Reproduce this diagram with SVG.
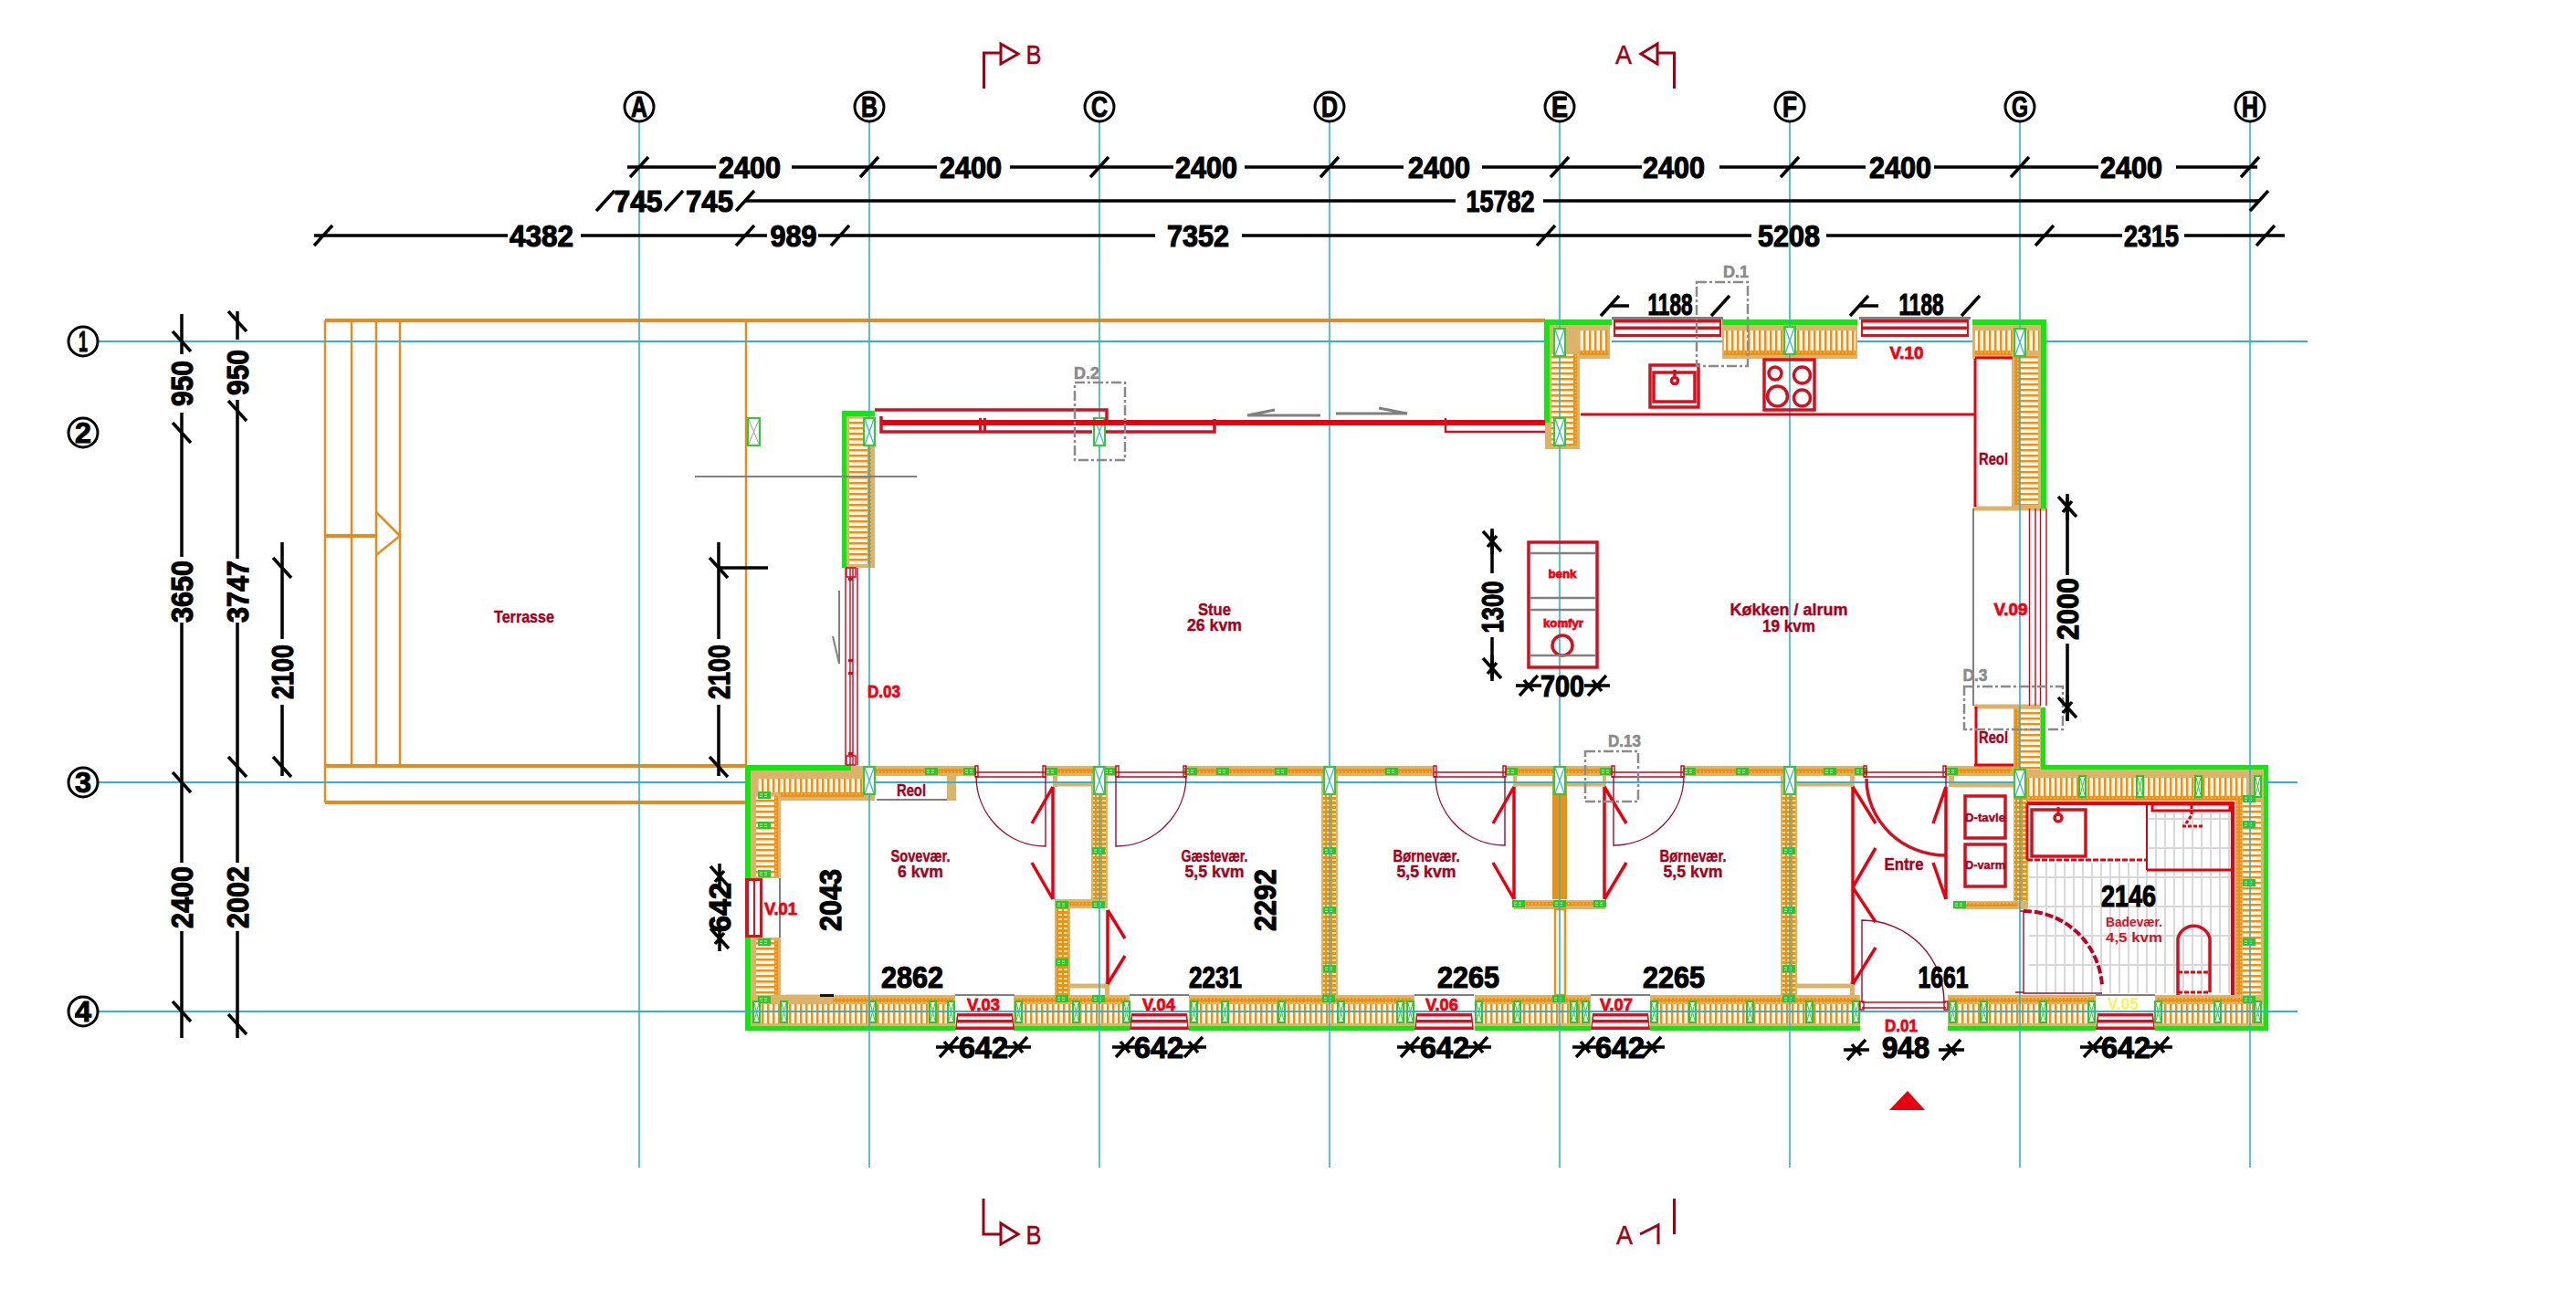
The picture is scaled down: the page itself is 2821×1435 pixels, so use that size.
<svg xmlns="http://www.w3.org/2000/svg" width="2821" height="1435" viewBox="0 0 2821 1435">
<style>
text{font-family:"Liberation Sans",Arial,sans-serif;text-anchor:middle}
.d{font-size:34px;font-weight:700;fill:#000;stroke:#000;stroke-width:1.2}
.gl{font-size:31px;font-weight:700;fill:#000;stroke:#000;stroke-width:1}
.r{font-size:19px;font-weight:700;fill:#A80018;stroke:#A80018;stroke-width:.4}
.v{font-size:19px;font-weight:700;fill:#F00010;stroke:#F00010;stroke-width:.8}
.g{font-size:19px;font-weight:700;fill:#8A8A8A;stroke:#8A8A8A;stroke-width:.6}
.s{font-size:30px;fill:#A00014;stroke:#A00014;stroke-width:.5}
.k{stroke:#000;stroke-width:3.5;fill:none}
.k2{stroke:#000;stroke-width:3.5;fill:none}
.teal{stroke:#2FB4CC;fill:none}
.o{stroke:#E68A1E;stroke-width:2.5;fill:none}
.o3{stroke:#E68A1E;stroke-width:4;fill:none}
.t{fill:#DDB36C}
.tl{stroke:#DDB36C;stroke-width:5;fill:none}
.G{fill:#14E614}
.re{stroke:#E8000F;stroke-width:3;fill:none}
.re2{stroke:#D4101F;stroke-width:3.5;fill:none}
.th{stroke:#D80018;stroke-width:1.4;fill:none}
.ar{stroke:#A00A30;stroke-width:1.4;fill:none}
.gr{stroke:#808080;stroke-width:2;fill:none}
.gd{stroke:#8A8A8A;stroke-width:2.5;fill:none;stroke-dasharray:11 3 3 3}
.sec{stroke:#A00014;stroke-width:3;fill:none}
</style>
<defs>
<pattern id="pv" width="6" height="6" patternUnits="userSpaceOnUse"><rect width="6" height="6" fill="#FFFBF0"/><rect width="2.5" height="6" fill="#F09010"/></pattern>
<pattern id="ph" width="6" height="6" patternUnits="userSpaceOnUse"><rect width="6" height="6" fill="#FFFBF0"/><rect width="6" height="2.5" fill="#F09010"/></pattern>
<pattern id="pz" width="4" height="4" patternUnits="userSpaceOnUse"><rect width="4" height="4" fill="#F09010"/><rect x="1" y="1" width="1.5" height="1.5" fill="#E8C070"/></pattern>
<pattern id="ps" width="6" height="5" patternUnits="userSpaceOnUse"><rect width="6" height="5" fill="#F09010"/><rect x="1" y="1" width="4" height="2" fill="#FFE8B0"/></pattern>
<pattern id="tile" width="10" height="32" patternUnits="userSpaceOnUse" x="2220" y="0"><rect width="10" height="32" fill="#fff"/><rect width="2" height="32" fill="#D8D8D8"/><rect width="10" height="2" fill="#D8D8D8"/></pattern>
<path id="ts" d="M-10 11L10-11" class="k"/>
<path id="tb" d="M-10-11L10 11" class="k"/>
<path id="ta" d="M-10 11L10-11M-14 0H14M-5-6L5 6" class="k"/>
<path id="tv" d="M-10-11L10 11M0-14V14M5-6L-5 6" class="k"/>
<g id="gb"><rect x="-7" y="-4" width="14" height="8" fill="#28C828"/><path d="M-5-1H5M-5 1.5H5" stroke="#C8F0C8" stroke-width="1" stroke-dasharray="3 2"/></g>
<g id="vm"><rect width="7" height="23" fill="#FFF" stroke="#28C828" stroke-width="2"/><path d="M1 2L6 21M6 2L1 21" stroke="#28C828" stroke-width="1"/></g>
<g id="xb"><rect x="-6" width="12" height="30" fill="#fff" stroke="#28D028" stroke-width="2"/><path d="M-5 1L5 29M5 1L-5 29" stroke="#2FB4CC" stroke-width="1.2"/></g>
<g id="wb"><path d="M0 1090H65" stroke="#808080" stroke-width="2"/><path d="M2 1110H63L65 1128H0Z" fill="#D8101F"/><rect x="3" y="1113.5" width="59" height="3.5" fill="#fff"/><rect x="2" y="1120.5" width="61" height="4" fill="#fff"/></g>
<g id="wt"><rect y="347" width="122" height="3" fill="#808080"/><rect x="2" y="350" width="118" height="19" fill="#D8101F"/><rect x="4" y="353.5" width="114" height="4" fill="#fff"/><rect x="4" y="361" width="114" height="5" fill="#fff"/></g>
</defs>
<rect width="2821" height="1435" fill="#fff"/>

<g id="terrace">
<path class="o3" d="M356 351H1692"/>
<path class="o" d="M356 351V879M385 351V839M412 351V839M438 351V839M817 351V839"/>
<path class="o3" d="M356 839H817M356 879H817M356 587H412"/>
<path class="o" d="M412 561L438 587L412 608"/>
<rect x="819" y="458" width="13" height="30" fill="#fff" stroke="#28D028" stroke-width="2"/><path d="M820 460L831 486M831 460L820 486" stroke="#999" stroke-width="1"/>
</g>

<g id="walls">
<rect class="t" x="926" y="455" width="32" height="167"/><rect x="930" y="458" width="20" height="160" fill="url(#ph)"/><rect x="950" y="458" width="4" height="160" fill="url(#pz)"/>
<rect class="G" x="922" y="450" width="36" height="6"/><rect class="G" x="922" y="450" width="5" height="172"/>
<rect class="t" x="1692" y="355" width="71" height="38"/><rect x="1700" y="362" width="60" height="22" fill="url(#pv)"/><rect x="1715" y="384" width="46" height="5" fill="url(#pz)"/>
<rect class="t" x="1692" y="355" width="38" height="137"/><rect x="1699" y="388" width="24" height="100" fill="url(#ph)"/><rect x="1723" y="388" width="4" height="100" fill="url(#pz)"/>
<rect class="t" x="1886" y="355" width="148" height="38"/><rect x="1888" y="362" width="144" height="22" fill="url(#pv)"/><rect x="1888" y="384" width="144" height="5" fill="url(#pz)"/>
<rect class="t" x="2160" y="355" width="80" height="38"/><rect x="2163" y="362" width="70" height="22" fill="url(#pv)"/><rect x="2163" y="384" width="45" height="5" fill="url(#pz)"/>
<rect class="t" x="2203" y="385" width="37" height="172"/><rect x="2212" y="390" width="20" height="163" fill="url(#ph)"/><rect x="2206" y="390" width="6" height="163" fill="url(#pz)"/>
<path class="tl" d="M2161 557H2240"/>
<rect class="G" x="1691" y="350" width="74" height="6"/><rect class="G" x="1691" y="350" width="6" height="113"/>
<rect class="G" x="1886" y="350" width="148" height="6"/><rect class="G" x="2160" y="350" width="80" height="6"/><rect class="G" x="2235" y="350" width="6" height="207"/>
<g class="t"><rect x="932" y="839" width="136" height="11"/><rect x="1145" y="839" width="77" height="11"/><rect x="1299" y="839" width="271" height="11"/><rect x="1649" y="839" width="116" height="11"/><rect x="1844" y="839" width="197" height="11"/><rect x="2131" y="839" width="74" height="11"/></g>
<g fill="url(#pz)"><rect x="958" y="842" width="110" height="5"/><rect x="1147" y="842" width="73" height="5"/><rect x="1301" y="842" width="267" height="5"/><rect x="1651" y="842" width="112" height="5"/><rect x="1846" y="842" width="193" height="5"/><rect x="2133" y="842" width="70" height="5"/></g>
<rect class="t" x="822" y="843" width="136" height="34"/><rect x="830" y="853" width="116" height="15" fill="url(#pv)"/><rect x="852" y="868" width="94" height="5" fill="url(#pz)"/>
<rect class="t" x="822" y="870" width="33" height="92"/><rect x="828" y="872" width="20" height="88" fill="url(#ph)"/><rect x="848" y="872" width="4" height="88" fill="url(#pz)"/>
<rect class="t" x="822" y="1027" width="33" height="66"/><rect x="828" y="1030" width="20" height="62" fill="url(#ph)"/><rect x="848" y="1030" width="4" height="62" fill="url(#pz)"/>
<rect class="G" x="816" y="838" width="116" height="6"/><rect class="G" x="816" y="838" width="6" height="124"/><rect class="G" x="816" y="1027" width="6" height="101"/>
<rect class="t" x="1037" y="850" width="10" height="27"/><path class="gr" d="M960 876H1037"/>
<g class="t"><rect x="822" y="1090" width="224" height="35"/><rect x="1110" y="1090" width="127" height="35"/><rect x="1302" y="1090" width="247" height="35"/><rect x="1615" y="1090" width="127" height="35"/><rect x="1807" y="1090" width="230" height="35"/><rect x="2133" y="1090" width="162" height="35"/><rect x="2360" y="1090" width="122" height="35"/></g>
<g fill="url(#pv)"><rect x="826" y="1100" width="218" height="21"/><rect x="1112" y="1100" width="123" height="21"/><rect x="1304" y="1100" width="243" height="21"/><rect x="1617" y="1100" width="123" height="21"/><rect x="1809" y="1100" width="226" height="21"/><rect x="2135" y="1100" width="158" height="21"/><rect x="2362" y="1100" width="116" height="21"/></g>
<g fill="url(#pz)"><rect x="912" y="1093" width="132" height="5"/><rect x="1112" y="1093" width="123" height="5"/><rect x="1304" y="1093" width="243" height="5"/><rect x="1617" y="1093" width="123" height="5"/><rect x="1809" y="1093" width="226" height="5"/><rect x="2135" y="1093" width="158" height="5"/><rect x="2362" y="1093" width="100" height="5"/></g>
<g class="G"><rect x="816" y="1124" width="230" height="5"/><rect x="1110" y="1124" width="127" height="5"/><rect x="1302" y="1124" width="247" height="5"/><rect x="1615" y="1124" width="127" height="5"/><rect x="1807" y="1124" width="230" height="5"/><rect x="2133" y="1124" width="162" height="5"/><rect x="2360" y="1124" width="124" height="5"/></g>
<rect class="t" x="2205" y="773" width="30" height="72"/><rect x="2212" y="776" width="22" height="68" fill="url(#ph)"/><rect x="2206" y="776" width="6" height="72" fill="url(#pz)"/>
<path class="tl" d="M2162 774H2235"/>
<rect class="t" x="2205" y="843" width="275" height="34"/><rect x="2220" y="852" width="240" height="20" fill="url(#pv)"/><rect x="2220" y="872" width="250" height="5" fill="url(#pz)"/>
<rect class="t" x="2448" y="877" width="32" height="215"/><rect x="2456" y="877" width="20" height="213" fill="url(#ph)"/><rect x="2449" y="877" width="6" height="213" fill="url(#pz)"/>
<rect class="t" x="2205" y="850" width="16" height="145"/><rect x="2206" y="852" width="14" height="142" fill="url(#ps)"/>
<rect class="t" x="2141" y="987" width="79" height="9"/><rect x="2145" y="989" width="64" height="4" fill="url(#pz)"/>
<rect class="G" x="2235" y="775" width="5" height="66"/><rect class="G" x="2235" y="838" width="249" height="5"/><rect class="G" x="2479" y="838" width="5" height="291"/>
<rect class="t" x="1195" y="850" width="18" height="145"/><rect x="1197" y="870" width="14" height="124" fill="url(#ps)"/>
<rect class="t" x="1155" y="985" width="58" height="10"/><rect x="1170" y="988" width="28" height="4" fill="url(#pz)"/>
<rect class="t" x="1155" y="995" width="17" height="95"/><rect x="1157" y="995" width="13" height="95" fill="url(#ps)"/>
<rect class="t" x="1447" y="850" width="18" height="240"/><rect x="1449" y="870" width="14" height="220" fill="url(#ps)"/>
<rect class="t" x="1950" y="850" width="18" height="240"/><rect x="1952" y="870" width="14" height="220" fill="url(#ps)"/>
<rect x="1700" y="850" width="16" height="135" fill="#F09010"/>
<rect class="t" x="1658" y="986" width="100" height="10"/><rect x="1668" y="988" width="80" height="4" fill="url(#pz)"/>
<rect x="1703" y="996" width="11" height="94" fill="#fff" stroke="#F09010" stroke-width="2.5"/>
<path class="tl" d="M1155 859H1195M1172 1080H1213M1660 859H1700M1716 859H1757M1967 859H2029M1967 1080H2029M2140 860H2205M860 1092H912"/>
<rect class="t" x="1153" y="850" width="5" height="12"/><rect class="t" x="1210" y="1075" width="5" height="15"/><rect class="t" x="1657" y="850" width="4" height="12"/><rect class="t" x="1755" y="850" width="4" height="12"/><rect class="t" x="2026" y="850" width="5" height="12"/><rect class="t" x="2026" y="1075" width="5" height="15"/><rect class="t" x="2134" y="850" width="6" height="12"/>
<rect x="898" y="1089" width="15" height="3" fill="#111"/>
<path class="gr" d="M854 962V1027M2161 557V773"/>
<use href="#gb" x="1020" y="845"/><use href="#gb" x="1062" y="845"/><use href="#gb" x="1151" y="845"/><use href="#gb" x="1215" y="845"/><use href="#gb" x="1304" y="845"/><use href="#gb" x="1339" y="845"/><use href="#gb" x="1403" y="845"/><use href="#gb" x="1524" y="845"/><use href="#gb" x="1655" y="845"/><use href="#gb" x="1759" y="845"/><use href="#gb" x="1850" y="845"/><use href="#gb" x="1908" y="845"/><use href="#gb" x="2004" y="845"/><use href="#gb" x="2038" y="845"/><use href="#gb" x="2137" y="845"/>
<use href="#gb" x="1203" y="932"/><use href="#gb" x="1203" y="991"/><use href="#gb" x="1163" y="991"/><use href="#gb" x="1163" y="1054"/>
<use href="#gb" x="1456" y="932"/><use href="#gb" x="1456" y="997"/><use href="#gb" x="1456" y="1061"/>
<use href="#gb" x="1959" y="932"/><use href="#gb" x="1959" y="997"/><use href="#gb" x="1959" y="1061"/>
<use href="#gb" x="1663" y="990"/><use href="#gb" x="1708" y="990"/><use href="#gb" x="1752" y="990"/><use href="#gb" x="2146" y="991"/>
<use href="#gb" x="1163" y="1094"/><use href="#gb" x="1203" y="1094"/><use href="#gb" x="1455" y="1094"/><use href="#gb" x="1707" y="1094"/><use href="#gb" x="1959" y="1094"/>
<use href="#gb" x="837" y="871"/><use href="#gb" x="837" y="904"/><use href="#gb" x="837" y="957"/><use href="#gb" x="837" y="1032"/><use href="#gb" x="837" y="1095"/>
<use href="#gb" x="2463" y="875"/><use href="#gb" x="2463" y="903"/><use href="#gb" x="2463" y="967"/><use href="#gb" x="2463" y="1032"/><use href="#gb" x="2463" y="1095"/>
<use href="#vm" x="825" y="1097"/><use href="#vm" x="855" y="1097"/><use href="#vm" x="952" y="1097"/><use href="#vm" x="1018" y="1097"/><use href="#vm" x="1038" y="1097"/><use href="#vm" x="1112" y="1097"/><use href="#vm" x="1175" y="1097"/><use href="#vm" x="1230" y="1097"/><use href="#vm" x="1304" y="1097"/><use href="#vm" x="1338" y="1097"/><use href="#vm" x="1400" y="1097"/><use href="#vm" x="1465" y="1097"/><use href="#vm" x="1530" y="1097"/><use href="#vm" x="1541" y="1097"/><use href="#vm" x="1616" y="1097"/><use href="#vm" x="1658" y="1097"/><use href="#vm" x="1720" y="1097"/><use href="#vm" x="1733" y="1097"/><use href="#vm" x="1808" y="1097"/><use href="#vm" x="1850" y="1097"/><use href="#vm" x="1913" y="1097"/><use href="#vm" x="1978" y="1097"/><use href="#vm" x="2029" y="1097"/><use href="#vm" x="2135" y="1097"/><use href="#vm" x="2169" y="1097"/><use href="#vm" x="2234" y="1097"/><use href="#vm" x="2287" y="1097"/><use href="#vm" x="2360" y="1097"/><use href="#vm" x="2425" y="1097"/><use href="#vm" x="2469" y="1097"/>
<use href="#vm" x="2277" y="850"/><use href="#vm" x="2340" y="850"/><use href="#vm" x="2404" y="850"/><use href="#vm" x="2469" y="850"/>
</g>

<g id="bath-floor">
<path d="M2222 945H2445V1088H2222ZM2353 890H2445V953H2353Z" fill="url(#tile)"/>
</g>

<g id="grid">
<path class="teal" stroke-width="1.6" d="M700 133V1279M952 133V1279M1204 133V1279M1456 133V1279M1708 133V1279M1960 133V1279M2212 133V1279M2464 133V1279"/>
<path class="teal" stroke-width="2.2" d="M108 374H1692M1765 374H1886M2034 374H2160M2240 374H2527M108 857H816M958 857H2205M2480 857H2516M108 1108H2516"/>
</g>

<g id="boxes">
<use href="#xb" x="952" y="458"/><use href="#xb" x="1204" y="458"/>
<use href="#xb" x="1708" y="360"/><use href="#xb" x="1708" y="458"/>
<use href="#xb" x="1960" y="358"/><use href="#xb" x="2212" y="360"/>
<use href="#xb" x="952" y="840"/><use href="#xb" x="1204" y="840"/><use href="#xb" x="1456" y="840"/><use href="#xb" x="1708" y="840"/><use href="#xb" x="1960" y="840"/><use href="#xb" x="2212" y="843"/>
</g>

<g id="windows">
<use href="#wb" x="1046"/><use href="#wb" x="1237"/><use href="#wb" x="1549"/><use href="#wb" x="1742"/><use href="#wb" x="2295"/>
<use href="#wt" x="1765"/><use href="#wt" x="2036"/>
<rect x="816" y="962" width="19" height="65" fill="#D8101F"/><rect x="820" y="965" width="5" height="59" fill="#fff"/><rect x="827" y="965" width="5" height="59" fill="#fff"/>
<path class="th" d="M2222.5 557V773M2229 557V773M2234.5 557V773M2241 557V773M926 622V838M931 622V838M934 622V838M939 622V838"/>
<path class="th" d="M927 622H937V632H927ZM927 828H937V838H927Z"/>
<g fill="#E8000F"><rect x="929" y="633" width="5" height="3"/><rect x="929" y="722" width="5" height="3"/><rect x="929" y="736" width="5" height="3"/><rect x="929" y="824" width="5" height="3"/></g>
</g>

<g id="sliding">
<path class="re2" d="M958 449H1212V463"/>
<path d="M965 463H1692" stroke="#E8000F" stroke-width="6" fill="none"/>
<path class="re2" d="M965 456V473H1196M1211 473H1330V459"/>
<path class="re2" style="stroke-width:2.5" d="M1583 458V473H1692"/>
<rect x="1072" y="458" width="3" height="15" fill="#D8101F"/><rect x="1077" y="458" width="3" height="15" fill="#D8101F"/>
<path class="gr" style="stroke-width:3" d="M1446 455H1366L1396 449M1463 453H1541L1510 447"/>
<path class="gr" d="M761 522H1004"/>
<path class="gr" d="M919 647V727L912 697"/>
</g>

<g id="fixtures">
<path class="re" d="M1731 454H2163M2163 393V555M2163 392H2204M2164 774V838M2162 838H2205"/>
<rect class="re2" x="1807" y="400" width="53" height="46"/><rect class="re2" x="1811" y="408" width="45" height="32"/><circle class="re2" cx="1834" cy="417" r="3.5"/><path class="re2" d="M1834 405V413"/>
<rect class="re2" x="1932" y="394" width="55" height="55"/><circle class="re2" cx="1944" cy="409" r="7"/><circle class="re2" cx="1973.5" cy="411" r="9"/><circle class="re2" cx="1946.5" cy="434" r="11"/><circle class="re2" cx="1973.5" cy="436" r="9"/>
<rect class="re2" x="1674" y="594" width="75" height="137"/><circle class="re2" cx="1711" cy="707" r="11"/>
<path class="gr" style="stroke-width:2.5" d="M1675 606H1748M1675 655H1748M1675 668H1748M1675 718H1748"/>
<rect class="re2" x="2152" y="872" width="44" height="46"/><rect class="re2" x="2152" y="925" width="44" height="46"/>
<path d="M2220 880H2445" stroke="#E8000F" stroke-width="4" fill="none"/><path d="M2445 878V1090" stroke="#E8000F" stroke-width="4" fill="none"/><path d="M2220 880V942" class="re"/>
<path d="M2220 942H2351" class="re" stroke-dasharray="6 2"/><path class="th" style="stroke-width:2" d="M2351 880V953"/><path class="re" d="M2351 953H2445"/>
<rect class="re2" x="2225" y="887" width="59" height="51"/><circle class="re2" cx="2254" cy="896" r="4"/><path class="re" d="M2254 884V892"/>
<rect class="re" x="2357" y="881" width="85" height="7"/><path class="re" d="M2400 882V893L2392 905M2390 905H2412" stroke-dasharray="4 2"/>
<path class="re2" d="M2385 1090V1028A18 18 0 0 1 2420 1028V1087"/><path class="re" d="M2385 1065H2420M2385 1087H2420" stroke-dasharray="5 2"/>
<path d="M2216 998A86 87 0 0 1 2302 1080" stroke="#C00020" stroke-width="4" fill="none" stroke-dasharray="9 3"/>
<path class="ar" d="M2216 998V1088H2302M2212 998H2220M2207 1087H2216"/>
</g>

<g id="doors">
<path class="ar" d="M1069 850A76 77 0 0 0 1145 927V850M1299 850A77 77 0 0 1 1222 927V850M1572 850A76 76 0 0 0 1648 926V850M1844 850A77 76 0 0 1 1767 926V850M2039 1098V1008A90 90 0 0 1 2129 1098"/>
<path d="M2044 853A87 84 0 0 0 2131 937" stroke="#D4101F" stroke-width="3.5" fill="none"/><path class="ar" d="M2131 850V937"/>
<path class="th" d="M1068 846H1145M1068 851H1145M1222 846H1299M1222 851H1299M1570 846H1649M1570 851H1649M1765 846H1844M1765 851H1844M2041 846H2131M2041 851H2131M2039 1098H2131M2039 1104H2131"/>
<path class="th" d="M1068 839H1071V851H1068ZM1142 839H1145V851H1142ZM1222 839H1225V851H1222ZM1296 839H1299V851H1296ZM1570 839H1573V851H1570ZM1646 839H1649V851H1646ZM1765 839H1768V851H1765ZM1841 839H1844V851H1841ZM2041 839H2044V851H2041ZM2128 839H2131V851H2128ZM2037 1097H2041V1106H2037ZM2129 1097H2133V1106H2129Z"/>
<path d="M1153 862V985M1153 862L1130 902M1153 985L1130 945M1213 997V1078M1213 997L1232 1028M1213 1078L1232 1047M1658 862V985M1658 862L1635 902M1658 985L1635 945M1757 862V985M1757 862L1781 902M1757 985L1781 945M2029 862V1078M2029 862L2054 902M2029 972L2054 929M2029 972L2054 1010M2029 1078L2054 1038M2131 862V985M2131 862L2117 902M2131 985L2117 945" stroke="#E8000F" stroke-width="3.5" fill="none"/>
</g>

<g id="details">
<rect class="gd" x="1858" y="309" width="56" height="92"/>
<rect class="gd" x="1177" y="419" width="55" height="85"/>
<rect class="gd" x="1736" y="823" width="58" height="55"/>
<rect class="gd" x="2151" y="752" width="108" height="47"/>
<text class="g" x="1901" y="304" textLength="28" lengthAdjust="spacingAndGlyphs">D.1</text>
<text class="g" x="1190" y="415" textLength="28" lengthAdjust="spacingAndGlyphs">D.2</text>
<text class="g" x="1779" y="818" textLength="36" lengthAdjust="spacingAndGlyphs">D.13</text>
<text class="g" x="2163" y="746" textLength="27" lengthAdjust="spacingAndGlyphs">D.3</text>
</g>

<g id="sections">
<path class="sec" d="M1077.5 97V58H1096M1096 48L1115 59L1096 70ZM1833.5 97V58H1815M1815 48L1797 59L1815 70ZM1077 1313V1352H1096M1096 1340L1115 1352L1096 1363ZM1833.5 1313V1352M1796 1352L1816 1342V1363"/>
<text class="s" x="1132" y="70" textLength="17" lengthAdjust="spacingAndGlyphs">B</text>
<text class="s" x="1778" y="70" textLength="18" lengthAdjust="spacingAndGlyphs">A</text>
<text class="s" x="1132" y="1363" textLength="17" lengthAdjust="spacingAndGlyphs">B</text>
<text class="s" x="1779" y="1363" textLength="18" lengthAdjust="spacingAndGlyphs">A</text>
<path d="M2089 1195L2108 1216H2069Z" fill="#E8000F"/>
</g>

<g id="grid-labels">
<g fill="#fff" stroke="#000" stroke-width="3"><circle cx="700" cy="117" r="16"/><circle cx="952" cy="117" r="16"/><circle cx="1204" cy="117" r="16"/><circle cx="1456" cy="117" r="16"/><circle cx="1708" cy="117" r="16"/><circle cx="1960" cy="117" r="16"/><circle cx="2212" cy="117" r="16"/><circle cx="2464" cy="117" r="16"/><circle cx="91" cy="374" r="16"/><circle cx="91" cy="474" r="16"/><circle cx="91" cy="857" r="16"/><circle cx="91" cy="1108" r="16"/></g>
<text class="gl" x="700" y="128" textLength="18" lengthAdjust="spacingAndGlyphs">A</text><text class="gl" x="952" y="128" textLength="18" lengthAdjust="spacingAndGlyphs">B</text><text class="gl" x="1204" y="128" textLength="18" lengthAdjust="spacingAndGlyphs">C</text><text class="gl" x="1456" y="128" textLength="18" lengthAdjust="spacingAndGlyphs">D</text><text class="gl" x="1708" y="128" textLength="18" lengthAdjust="spacingAndGlyphs">E</text><text class="gl" x="1960" y="128" textLength="16" lengthAdjust="spacingAndGlyphs">F</text><text class="gl" x="2212" y="128" textLength="18" lengthAdjust="spacingAndGlyphs">G</text><text class="gl" x="2464" y="128" textLength="18" lengthAdjust="spacingAndGlyphs">H</text>
<text class="gl" x="91" y="385" textLength="10" lengthAdjust="spacingAndGlyphs">1</text><text class="gl" x="91" y="485" textLength="18" lengthAdjust="spacingAndGlyphs">2</text><text class="gl" x="91" y="868" textLength="18" lengthAdjust="spacingAndGlyphs">3</text><text class="gl" x="91" y="1119" textLength="18" lengthAdjust="spacingAndGlyphs">4</text>
</g>

<g id="dimensions">
<path class="k2" d="M687 183H784M867 183H1026M1106 183H1285M1363 183H1537M1623 183H1798M1883 183H2043M2118 183H2298M2383 183H2472"/>
<path class="k2" d="M816 220H1594M1690 220H2474"/>
<path class="k2" d="M344 258H556M636 258H840M896 258H1265M1360 258H1918M2000 258H2324M2392 258H2502"/>
<path class="k" d="M199 344V388M199 452V610M199 682V945M199 1020V1137M260 341V372M260 438V612M260 682V945M260 1020V1137M309 594V700M309 772V850M787 594V700M787 772V850M2264 545V630M2264 705V790M1634 582V628M1634 698V743"/>
<path class="k2" d="M787 622H841"/>
<use href="#ts" x="700" y="183"/><use href="#ts" x="952" y="183"/><use href="#ts" x="1204" y="183"/><use href="#ts" x="1456" y="183"/><use href="#ts" x="1708" y="183"/><use href="#ts" x="1960" y="183"/><use href="#ts" x="2212" y="183"/><use href="#ts" x="2464" y="183"/>
<use href="#ts" x="663" y="220"/><use href="#ts" x="738" y="220"/><use href="#ts" x="816" y="220"/><use href="#ts" x="2474" y="220"/>
<use href="#ts" x="354" y="258"/><use href="#ts" x="816" y="258"/><use href="#ts" x="920" y="258"/><use href="#ts" x="1693" y="258"/><use href="#ts" x="2239" y="258"/><use href="#ts" x="2481" y="258"/>
<use href="#tb" x="199" y="374"/><use href="#tb" x="199" y="474"/><use href="#tb" x="199" y="857"/><use href="#tb" x="199" y="1108"/>
<use href="#tb" x="260" y="352"/><use href="#tb" x="260" y="450"/><use href="#tb" x="260" y="840"/><use href="#tb" x="260" y="1122"/>
<use href="#tb" x="309" y="622"/><use href="#tb" x="309" y="840"/><use href="#tb" x="787" y="622"/><use href="#tb" x="787" y="840"/>
<use href="#tv" x="2264" y="555"/><use href="#tv" x="2264" y="775"/><use href="#tv" x="1634" y="593"/><use href="#tv" x="1634" y="732"/><use href="#tv" x="788" y="960"/><use href="#tv" x="788" y="1028"/>
<use href="#ta" x="1039" y="1147"/><use href="#ta" x="1115" y="1147"/><use href="#ta" x="1232" y="1147"/><use href="#ta" x="1307" y="1147"/><use href="#ta" x="1544" y="1147"/><use href="#ta" x="1619" y="1147"/><use href="#ta" x="1736" y="1147"/><use href="#ta" x="1809" y="1147"/><use href="#ta" x="2292" y="1147"/><use href="#ta" x="2365" y="1147"/><use href="#ta" x="2033" y="1150"/><use href="#ta" x="2137" y="1150"/><use href="#ta" x="1674" y="751"/><use href="#ta" x="1749" y="751"/>
<path class="k" d="M1763 335H1784M2036 335H2057"/>
<use href="#ts" x="1763" y="335"/><use href="#ts" x="1884" y="335"/><use href="#ts" x="2036" y="335"/><use href="#ts" x="2158" y="335"/>

<g class="d">
<text x="821" y="195" textLength="68" lengthAdjust="spacingAndGlyphs">2400</text><text x="1063" y="195" textLength="68" lengthAdjust="spacingAndGlyphs">2400</text><text x="1321" y="195" textLength="68" lengthAdjust="spacingAndGlyphs">2400</text><text x="1576" y="195" textLength="68" lengthAdjust="spacingAndGlyphs">2400</text><text x="1833" y="195" textLength="68" lengthAdjust="spacingAndGlyphs">2400</text><text x="2081" y="195" textLength="68" lengthAdjust="spacingAndGlyphs">2400</text><text x="2334" y="195" textLength="68" lengthAdjust="spacingAndGlyphs">2400</text>
<text x="699" y="232" textLength="53" lengthAdjust="spacingAndGlyphs">745</text><text x="777" y="232" textLength="52" lengthAdjust="spacingAndGlyphs">745</text><text x="1643" y="232" textLength="75" lengthAdjust="spacingAndGlyphs">15782</text>
<text x="593" y="270" textLength="70" lengthAdjust="spacingAndGlyphs">4382</text><text x="869" y="270" textLength="51" lengthAdjust="spacingAndGlyphs">989</text><text x="1312" y="270" textLength="68" lengthAdjust="spacingAndGlyphs">7352</text><text x="1959" y="270" textLength="68" lengthAdjust="spacingAndGlyphs">5208</text><text x="2356" y="270" textLength="60" lengthAdjust="spacingAndGlyphs">2315</text>
<text x="1829" y="345" textLength="49" lengthAdjust="spacingAndGlyphs">1188</text><text x="2104" y="345" textLength="49" lengthAdjust="spacingAndGlyphs">1188</text>
<text x="1711" y="763" textLength="48" lengthAdjust="spacingAndGlyphs">700</text>
<text x="999" y="1082" textLength="68" lengthAdjust="spacingAndGlyphs">2862</text><text x="1331" y="1082" textLength="58" lengthAdjust="spacingAndGlyphs">2231</text><text x="1608" y="1082" textLength="68" lengthAdjust="spacingAndGlyphs">2265</text><text x="1833" y="1082" textLength="68" lengthAdjust="spacingAndGlyphs">2265</text><text x="2128" y="1082" textLength="55" lengthAdjust="spacingAndGlyphs">1661</text>
<text x="2331" y="993" textLength="60" lengthAdjust="spacingAndGlyphs">2146</text>
<text x="1077" y="1159" textLength="54" lengthAdjust="spacingAndGlyphs">642</text><text x="1269" y="1159" textLength="54" lengthAdjust="spacingAndGlyphs">642</text><text x="1582" y="1159" textLength="54" lengthAdjust="spacingAndGlyphs">642</text><text x="1774" y="1159" textLength="54" lengthAdjust="spacingAndGlyphs">642</text><text x="2328" y="1159" textLength="54" lengthAdjust="spacingAndGlyphs">642</text><text x="2087" y="1159" textLength="52" lengthAdjust="spacingAndGlyphs">948</text>
<text transform="translate(211 420) rotate(-90)" textLength="50" lengthAdjust="spacingAndGlyphs">950</text>
<text transform="translate(272 408) rotate(-90)" textLength="50" lengthAdjust="spacingAndGlyphs">950</text>
<text transform="translate(211 648) rotate(-90)" textLength="68" lengthAdjust="spacingAndGlyphs">3650</text>
<text transform="translate(272 648) rotate(-90)" textLength="68" lengthAdjust="spacingAndGlyphs">3747</text>
<text transform="translate(211 983) rotate(-90)" textLength="68" lengthAdjust="spacingAndGlyphs">2400</text>
<text transform="translate(272 983) rotate(-90)" textLength="68" lengthAdjust="spacingAndGlyphs">2002</text>
<text transform="translate(321 736) rotate(-90)" textLength="60" lengthAdjust="spacingAndGlyphs">2100</text>
<text transform="translate(799 736) rotate(-90)" textLength="60" lengthAdjust="spacingAndGlyphs">2100</text>
<text transform="translate(800 994) rotate(-90)" textLength="54" lengthAdjust="spacingAndGlyphs">642</text>
<text transform="translate(921 986) rotate(-90)" textLength="68" lengthAdjust="spacingAndGlyphs">2043</text>
<text transform="translate(1397 986) rotate(-90)" textLength="68" lengthAdjust="spacingAndGlyphs">2292</text>
<text transform="translate(1646 665) rotate(-90)" textLength="57" lengthAdjust="spacingAndGlyphs">1300</text>
<text transform="translate(2276 667) rotate(-90)" textLength="68" lengthAdjust="spacingAndGlyphs">2000</text>
</g>
</g>

<g id="labels">
<g class="r">
<text x="574" y="682" textLength="66" lengthAdjust="spacingAndGlyphs">Terrasse</text>
<text x="1330" y="674" textLength="36" lengthAdjust="spacingAndGlyphs">Stue</text><text x="1330" y="691" textLength="60" lengthAdjust="spacingAndGlyphs">26 kvm</text>
<text x="1959" y="674" textLength="129" lengthAdjust="spacingAndGlyphs">Køkken / alrum</text><text x="1959" y="692" textLength="58" lengthAdjust="spacingAndGlyphs">19 kvm</text>
<text x="2183" y="509" textLength="32" lengthAdjust="spacingAndGlyphs">Reol</text><text x="2183" y="814" textLength="32" lengthAdjust="spacingAndGlyphs">Reol</text><text x="998" y="872" textLength="32" lengthAdjust="spacingAndGlyphs">Reol</text>
<text x="1008" y="944" textLength="65" lengthAdjust="spacingAndGlyphs">Sovevær.</text><text x="1008" y="961" textLength="50" lengthAdjust="spacingAndGlyphs">6 kvm</text>
<text x="1330" y="944" textLength="73" lengthAdjust="spacingAndGlyphs">Gæstevær.</text><text x="1330" y="961" textLength="65" lengthAdjust="spacingAndGlyphs">5,5 kvm</text>
<text x="1562" y="944" textLength="73" lengthAdjust="spacingAndGlyphs">Børnevær.</text><text x="1562" y="961" textLength="65" lengthAdjust="spacingAndGlyphs">5,5 kvm</text>
<text x="1854" y="944" textLength="73" lengthAdjust="spacingAndGlyphs">Børnevær.</text><text x="1854" y="961" textLength="65" lengthAdjust="spacingAndGlyphs">5,5 kvm</text>
<text x="2085" y="953" textLength="43" lengthAdjust="spacingAndGlyphs">Entre</text>
<text x="2174" y="900" textLength="44" lengthAdjust="spacingAndGlyphs" style="font-size:13px">D-tavle</text>
<text x="2174" y="952" textLength="44" lengthAdjust="spacingAndGlyphs" style="font-size:13px">D-varm</text>
<text x="2337" y="1015" textLength="62" lengthAdjust="spacingAndGlyphs" style="font-size:14px;fill:#D4101F;stroke:none">Badevær.</text>
<text x="2337" y="1032" textLength="62" lengthAdjust="spacingAndGlyphs" style="font-size:14px;fill:#D4101F;stroke:none">4,5 kvm</text>
</g>
<g class="v">
<text x="2088" y="393" textLength="37" lengthAdjust="spacingAndGlyphs">V.10</text>
<text x="2202" y="674" textLength="37" lengthAdjust="spacingAndGlyphs">V.09</text>
<text x="855" y="1002" textLength="36" lengthAdjust="spacingAndGlyphs">V.01</text>
<text x="968" y="764" textLength="36" lengthAdjust="spacingAndGlyphs">D.03</text>
<text x="1077" y="1107" textLength="36" lengthAdjust="spacingAndGlyphs">V.03</text>
<text x="1269" y="1107" textLength="36" lengthAdjust="spacingAndGlyphs">V.04</text>
<text x="1579" y="1107" textLength="36" lengthAdjust="spacingAndGlyphs">V.06</text>
<text x="1770" y="1107" textLength="36" lengthAdjust="spacingAndGlyphs">V.07</text>
<text x="2082" y="1130" textLength="36" lengthAdjust="spacingAndGlyphs">D.01</text>
<text x="1711" y="633" textLength="31" lengthAdjust="spacingAndGlyphs" style="font-size:13px">benk</text>
<text x="1712" y="687" textLength="44" lengthAdjust="spacingAndGlyphs" style="font-size:13px">komfyr</text>
</g>
<text x="2325" y="1106" textLength="34" lengthAdjust="spacingAndGlyphs" style="font-size:19px;font-weight:700;fill:#FFF050">V.05</text>
</g>
</svg>
